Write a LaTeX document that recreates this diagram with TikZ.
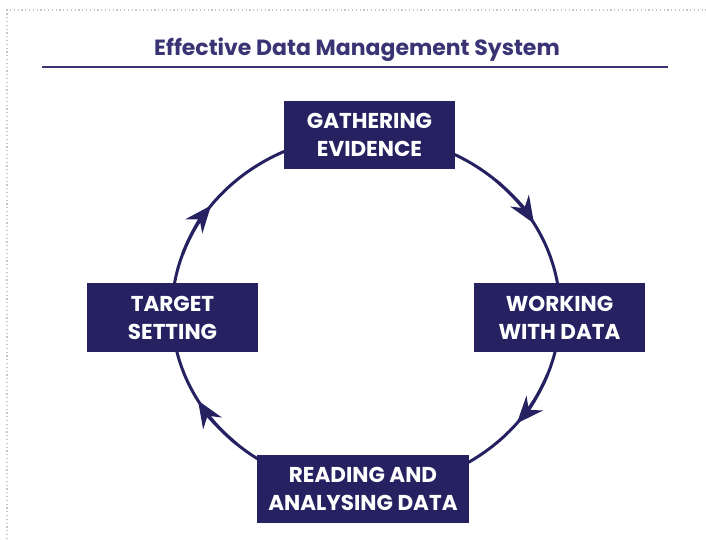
\documentclass[tikz,border=0pt]{standalone}
\usepackage{fontspec}
\setmainfont{Poppins}
\usetikzlibrary{arrows.meta,calc}
\definecolor{navy}{HTML}{262262}
\definecolor{titlec}{HTML}{3A3474}
\tikzset{
  stagebox/.style={fill=navy, text=white, font=\bfseries\fontsize{21.5}{28}\selectfont, align=center, inner sep=0pt},
  ring/.style={draw=navy, line width=3pt},
  tip/.style={navy, line width=3pt, -{Stealth[length=27pt,width=22pt,inset=9pt]}}
}
\begin{document}
\begin{tikzpicture}[x=1pt,y=-1pt]
\useasboundingbox (0,0) rectangle (706,539);
\draw[gray!45, line width=1.2pt, dash pattern=on 1.2pt off 2.6pt] (7,539) -- (7,10) -- (706,10);
\node[text=titlec, font=\bfseries\fontsize{22}{26}\selectfont, anchor=base] (title) at (357,55) {Effective Data Management System};
\draw[titlec, line width=1.2pt] (42,67) -- (668,67);
\coordinate (C) at (366,312);
\draw[ring] (C) ellipse [x radius=194, y radius=177];
\draw[tip] ($(C)+(-48:194 and 177)$) arc[start angle=-48, end angle=-30, x radius=194, y radius=177];
\draw[tip] ($(C)+(21:194 and 177)$) arc[start angle=21, end angle=39, x radius=194, y radius=177];
\draw[tip] ($(C)+(132:194 and 177)$) arc[start angle=132, end angle=150, x radius=194, y radius=177];
\draw[tip] ($(C)+(199:194 and 177)$) arc[start angle=199, end angle=217, x radius=194, y radius=177];
\node[stagebox, minimum width=171, minimum height=68] (gather) at (369.5,135) {GATHERING\\EVIDENCE};
\node[stagebox, minimum width=171, minimum height=69] (work) at (559.5,317.5) {WORKING\\WITH DATA};
\node[stagebox, minimum width=212, minimum height=68] (read) at (363,489) {READING AND\\ANALYSING DATA};
\node[stagebox, minimum width=171, minimum height=69] (target) at (172.5,317.5) {TARGET\\SETTING};
\end{tikzpicture}
\end{document}
